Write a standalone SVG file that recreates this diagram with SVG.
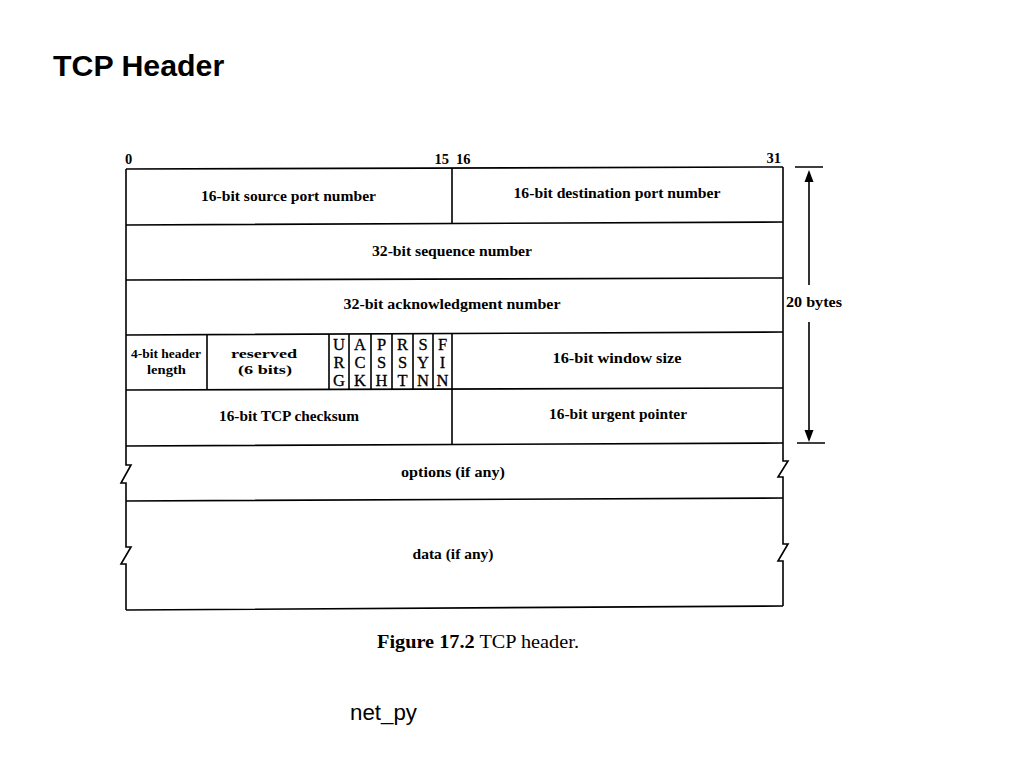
<svg xmlns="http://www.w3.org/2000/svg" width="1023" height="767" viewBox="0 0 1023 767">
<style>
.ln{stroke:#000;stroke-width:1.6;fill:none}
.lbl{font-family:"Liberation Serif","Times New Roman",serif;font-weight:bold;font-size:15px;text-anchor:middle;fill:#000}
.sm{font-family:"Liberation Serif","Times New Roman",serif;font-weight:bold;font-size:12.5px;text-anchor:middle;fill:#000}
.flag{font-family:"Liberation Serif","Times New Roman",serif;font-size:16.5px;text-anchor:middle;fill:#000;stroke:#000;stroke-width:0.3}
.num{font-family:"Liberation Serif","Times New Roman",serif;font-weight:bold;font-size:14.5px;fill:#000}
</style>
<rect width="1023" height="767" fill="#fff"/>
<text x="53" y="76" font-family="Liberation Sans, Arial, sans-serif" font-weight="bold" font-size="30.3">TCP Header</text>

<g id="grid">
<path class="ln" d="M126,169 L783,167 M126,225 L783,222 M126,280 L783,278 M126,335 L783,332 M126,390 L783,388 M126,446 L783,443 M126,501 L783,498 M126,610 L783,606"/>
<path class="ln" d="M126,169 V465 H131 L121,483 H126 V547 H131 L121,564 H126 V610"/>
<path class="ln" d="M783,167 V461 H788 L778,477 H783 V544 H788 L778,561 H783 V606"/>
<path class="ln" d="M452,168 V224 M452,389 V445 M207,334 V390 M329,334 V390 M349,334 V390 M371,334 V390 M392,334 V390 M413,334 V390 M433,334 V390 M452,334 V390"/>
</g>

<g id="bit-numbers">
<text class="num" x="125" y="164">0</text>
<text class="num" x="449" y="164" text-anchor="end">15</text>
<text class="num" x="456" y="164">16</text>
<text class="num" x="781" y="163" text-anchor="end">31</text>
</g>

<g id="source-port"><text class="lbl" x="288.5" y="201" textLength="175" lengthAdjust="spacingAndGlyphs">16-bit source port number</text></g>
<g id="dest-port"><text class="lbl" x="617" y="198" textLength="207" lengthAdjust="spacingAndGlyphs">16-bit destination port number</text></g>
<g id="sequence"><text class="lbl" x="452" y="256" textLength="160" lengthAdjust="spacingAndGlyphs">32-bit sequence number</text></g>
<g id="ack"><text class="lbl" x="452" y="309" textLength="217" lengthAdjust="spacingAndGlyphs">32-bit acknowledgment number</text></g>
<g id="header-length">
<text class="sm" x="166" y="358" textLength="70" lengthAdjust="spacingAndGlyphs">4-bit header</text>
<text class="sm" x="166.5" y="374" textLength="39" lengthAdjust="spacingAndGlyphs">length</text>
</g>
<g id="reserved">
<text class="sm" x="264" y="358" textLength="66" lengthAdjust="spacingAndGlyphs">reserved</text>
<text class="sm" x="265" y="374" textLength="54" lengthAdjust="spacingAndGlyphs">(6 bits)</text>
</g>
<g id="flags">
<text class="flag" x="339" y="350">U</text><text class="flag" x="339" y="368">R</text><text class="flag" x="339" y="386">G</text>
<text class="flag" x="360" y="350">A</text><text class="flag" x="360" y="368">C</text><text class="flag" x="360" y="386">K</text>
<text class="flag" x="381.5" y="350">P</text><text class="flag" x="381.5" y="368">S</text><text class="flag" x="381.5" y="386">H</text>
<text class="flag" x="402.5" y="350">R</text><text class="flag" x="402.5" y="368">S</text><text class="flag" x="402.5" y="386">T</text>
<text class="flag" x="423" y="350">S</text><text class="flag" x="423" y="368">Y</text><text class="flag" x="423" y="386">N</text>
<text class="flag" x="442.5" y="350">F</text><text class="flag" x="442.5" y="368">I</text><text class="flag" x="442.5" y="386">N</text>
</g>
<g id="window"><text class="lbl" x="617" y="363" textLength="129" lengthAdjust="spacingAndGlyphs">16-bit window size</text></g>
<g id="checksum"><text class="lbl" x="289" y="421" textLength="140" lengthAdjust="spacingAndGlyphs">16-bit TCP checksum</text></g>
<g id="urgent"><text class="lbl" x="618" y="419" textLength="138" lengthAdjust="spacingAndGlyphs">16-bit urgent pointer</text></g>
<g id="options"><text class="lbl" x="453" y="477" textLength="104" lengthAdjust="spacingAndGlyphs">options (if any)</text></g>
<g id="data"><text class="lbl" x="453" y="559" textLength="81" lengthAdjust="spacingAndGlyphs">data (if any)</text></g>

<g id="connectors">
<path class="ln" d="M795,167 H823 M797,443 H825 M809,180 V285 M809,322 V431"/>
<polygon points="809,170 804.5,182 813.5,182" fill="#000"/>
<polygon points="809,442 804.5,430 813.5,430" fill="#000"/>
</g>
<g id="size-label"><text class="lbl" x="814" y="307" textLength="56" lengthAdjust="spacingAndGlyphs">20 bytes</text></g>

<g id="caption">
<text x="377" y="648" font-family="Liberation Serif, 'Times New Roman', serif" font-size="18" textLength="202" lengthAdjust="spacingAndGlyphs"><tspan font-weight="bold">Figure 17.2</tspan> TCP header.</text>
</g>
<text x="350" y="720" font-family="Liberation Sans, Arial, sans-serif" font-size="22.3">net_py</text>
</svg>
